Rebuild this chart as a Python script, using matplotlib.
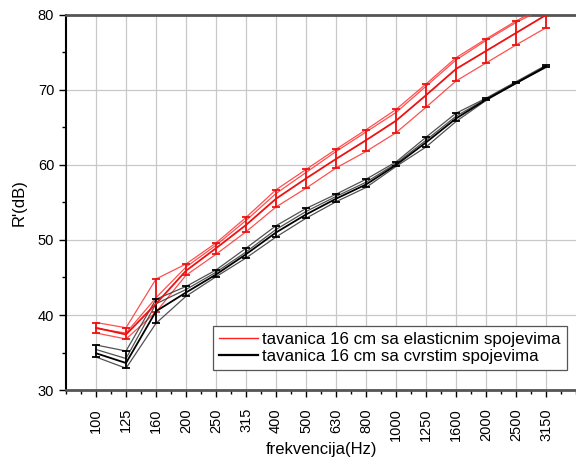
import numpy as np
import matplotlib
matplotlib.use('Agg')
import matplotlib.pyplot as plt
from matplotlib.ticker import MultipleLocator

plt.rcParams['font.family'] = ['Liberation Sans', 'DejaVu Sans']

freq = ['100', '125', '160', '200', '250', '315', '400', '500', '630',
        '800', '1000', '1250', '1600', '2000', '2500', '3150']

# elastic joints (red)
r1 = [39.0, 38.3, 44.8, 46.8, 49.6, 53.0, 56.7, 59.4, 62.1, 64.7, 67.4, 70.8, 74.3, 76.8, 79.2, 81.3]
r2 = [38.2, 37.6, 42.3, 46.4, 49.3, 52.6, 56.2, 59.0, 61.8, 64.4, 67.0, 70.5, 74.0, 76.6, 79.0, 81.0]
r_mean = [38.3, 37.4, 41.5, 45.9, 48.9, 52.0, 55.5, 58.2, 60.8, 63.3, 65.9, 69.3, 72.8, 75.2, 77.6, 80.0]
r4 = [37.6, 36.8, 40.4, 45.3, 48.1, 51.1, 54.4, 56.9, 59.6, 61.8, 64.3, 67.7, 71.2, 73.6, 76.0, 78.3]

# rigid joints (black)
b1 = [36.0, 35.2, 42.1, 43.8, 46.0, 48.9, 51.9, 54.2, 56.1, 58.1, 60.4, 63.7, 66.9, 68.9, 71.1, 73.3]
b2 = [35.4, 34.2, 41.5, 43.4, 45.7, 48.4, 51.4, 53.8, 55.8, 57.7, 60.2, 63.3, 66.5, 68.8, 71.0, 73.2]
b_mean = [34.9, 33.6, 40.5, 43.0, 45.4, 48.1, 51.0, 53.4, 55.5, 57.4, 60.0, 63.0, 66.2, 68.7, 70.9, 73.1]
b4 = [34.4, 32.9, 38.9, 42.5, 45.1, 47.6, 50.4, 52.9, 55.1, 57.0, 59.8, 62.4, 65.8, 68.6, 70.9, 73.0]

x = np.arange(len(freq))

fig = plt.figure(figsize=(5.76, 4.57), dpi=100)
ax = fig.add_axes([0.1146, 0.1466, 0.8854, 0.8206])

ax.grid(True, color='#c8c8c8', lw=0.9, zorder=0)
ax.set_axisbelow(True)

# red group
for s in (r1, r2, r4):
    ax.plot(x, s, color='#ff3030', lw=0.9, alpha=0.85, zorder=3)
r_lo = np.array(r_mean) - np.array(r4)
r_hi = np.array(r1) - np.array(r_mean)
ax.errorbar(x, r_mean, yerr=[r_lo, r_hi], color='#ee1111', lw=1.3,
            elinewidth=1.3, capsize=3, capthick=1.3, zorder=4)

# black group
for s in (b1, b2, b4):
    ax.plot(x, s, color='#333333', lw=0.9, alpha=0.85, zorder=3)
b_lo = np.array(b_mean) - np.array(b4)
b_hi = np.array(b1) - np.array(b_mean)
ax.errorbar(x, b_mean, yerr=[b_lo, b_hi], color='black', lw=1.3,
            elinewidth=1.3, capsize=3, capthick=1.3, zorder=4)

# legend proxies
ax.plot([], [], color='#ff2020', lw=1.0, label='tavanica 16 cm sa elasticnim spojevima')
ax.plot([], [], color='black', lw=1.6, label='tavanica 16 cm sa cvrstim spojevima')
handles, labels = ax.get_legend_handles_labels()
leg = ax.legend(handles[-2:], labels[-2:], loc='lower right',
                bbox_to_anchor=(0.982, 0.053), fontsize=12.2, fancybox=False,
                edgecolor='#555555', framealpha=1, handlelength=2.3,
                handletextpad=0.25, borderpad=0.35, borderaxespad=0,
                labelspacing=0.15)
leg.get_frame().set_linewidth(0.9)

ax.set_xlim(-1, 16)
ax.set_ylim(30, 80)
ax.set_xticks(x)
ax.set_xticklabels(freq, rotation=90, fontsize=10.5)
ax.xaxis.set_minor_locator(MultipleLocator(0.5))
ax.yaxis.set_major_locator(MultipleLocator(10))
ax.yaxis.set_minor_locator(MultipleLocator(5))
ax.tick_params(axis='both', which='major', direction='out', length=5, width=1, labelsize=10.5)
ax.tick_params(axis='both', which='minor', direction='out', length=3, width=1)
ax.tick_params(axis='x', pad=8)

ax.spines['right'].set_visible(False)
ax.spines['top'].set_color('#555555')
ax.spines['top'].set_linewidth(2)
ax.spines['bottom'].set_color('#555555')
ax.spines['bottom'].set_linewidth(2)
ax.spines['left'].set_color('black')
ax.spines['left'].set_linewidth(1.5)

ax.set_ylabel("R'(dB)", fontsize=12, labelpad=8)
ax.set_xlabel('frekvencija(Hz)', fontsize=12, labelpad=1)

fig.savefig('out.png', dpi=100)
